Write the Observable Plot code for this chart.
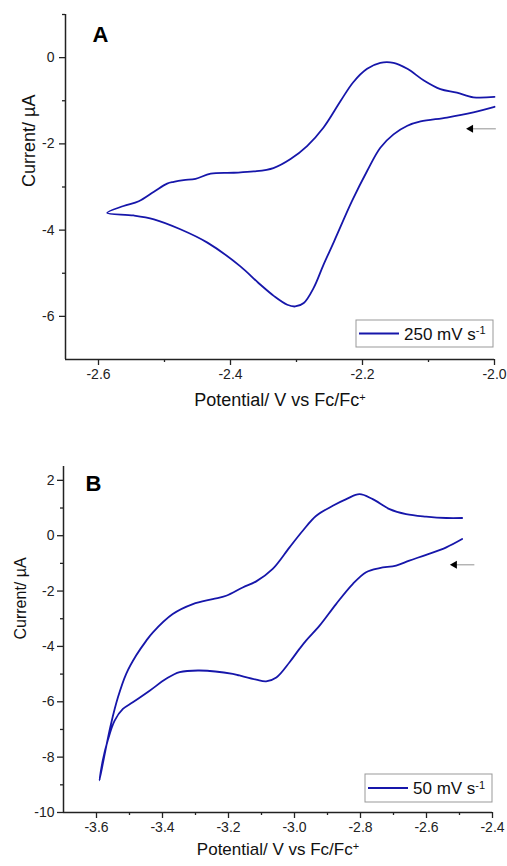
<!DOCTYPE html>
<html><head><meta charset="utf-8">
<script src="https://cdn.jsdelivr.net/npm/d3@7"></script>
<script src="https://cdn.jsdelivr.net/npm/@observablehq/plot@0.6"></script>
<style>
body{margin:0;background:#fff;}
#wrap{position:relative;width:507px;height:866px;font-family:"Liberation Sans",Arial,sans-serif;}
#wrap svg{position:absolute;left:0;overflow:visible;}
</style></head><body><div id="wrap"></div>
<script>
// ---- Panel A (250 mV s-1) ----
const aPotential = [-2.000,-2.032,-2.072,-2.112,-2.132,-2.153,-2.173,-2.193,-2.216,-2.243,-2.259,-2.274,-2.289,-2.302,-2.314,-2.334,-2.358,-2.385,-2.435,-2.476,-2.516,-2.547,-2.587,
  -2.562,-2.539,-2.516,-2.496,-2.486,-2.471,-2.453,-2.430,-2.395,-2.365,-2.335,-2.309,-2.284,-2.259,-2.233,-2.214,-2.193,-2.173,-2.153,-2.132,-2.107,-2.082,-2.057,-2.032,-2.000];
const aCurrent = [-1.14,-1.27,-1.39,-1.48,-1.58,-1.78,-2.09,-2.63,-3.33,-4.26,-4.80,-5.34,-5.69,-5.77,-5.73,-5.53,-5.22,-4.84,-4.29,-3.98,-3.75,-3.66,-3.60,
  -3.44,-3.33,-3.11,-2.92,-2.88,-2.84,-2.81,-2.69,-2.67,-2.64,-2.56,-2.35,-2.05,-1.62,-1.00,-0.57,-0.26,-0.12,-0.12,-0.26,-0.53,-0.73,-0.81,-0.92,-0.91];
const aXMajor = [-2.6,-2.4,-2.2,-2.0];
const aXMinor = [-2.5,-2.3,-2.1];
const aYMajor = [0,-2,-4,-6];
const aYMinor = [1,-1,-3,-5];
const aLegend = "250 mV s";
const aArrow = {x1:-1.998, x2:-2.039, y:-1.65};

// ---- Panel B (50 mV s-1) ----
const bPotential = [-2.492,-2.540,-2.601,-2.652,-2.692,-2.742,-2.783,-2.823,-2.874,-2.924,-2.965,-2.985,-3.015,-3.055,-3.086,-3.116,-3.167,-3.187,-3.288,-3.348,-3.389,-3.439,-3.490,-3.520,-3.545,-3.566,-3.581,-3.591,
  -3.573,-3.556,-3.535,-3.510,-3.480,-3.449,-3.429,-3.369,-3.308,-3.248,-3.207,-3.157,-3.116,-3.066,-3.015,-2.975,-2.934,-2.884,-2.843,-2.803,-2.763,-2.712,-2.662,-2.601,-2.540,-2.492];
const bCurrent = [-0.12,-0.42,-0.69,-0.90,-1.08,-1.17,-1.32,-1.74,-2.47,-3.25,-3.79,-4.09,-4.57,-5.12,-5.26,-5.20,-5.05,-4.99,-4.87,-4.93,-5.17,-5.60,-6.02,-6.26,-6.68,-7.40,-8.12,-8.84,
  -7.76,-6.80,-5.84,-4.99,-4.33,-3.79,-3.49,-2.83,-2.47,-2.29,-2.17,-1.87,-1.65,-1.20,-0.42,0.18,0.72,1.08,1.32,1.50,1.32,0.96,0.78,0.69,0.64,0.64];
const bXMajor = [-3.6,-3.4,-3.2,-3.0,-2.8,-2.6,-2.4];
const bXMinor = [-3.5,-3.3,-3.1,-2.9,-2.7,-2.5];
const bYMajor = [2,0,-2,-4,-6,-8,-10];
const bYMinor = [1,-1,-3,-5,-7,-9];
const bLegend = "50 mV s";
const bArrow = {x1:-2.455, x2:-2.521, y:-1.05};

const xTitle = "Potential/ V vs Fc/Fc";
const yTitle = "Current/ \u00b5A";

const LINE = "#1616aa";
const AXIS = "#222";
const FONT = "'Liberation Sans', Arial, sans-serif";

function panel(cfg) {
  const data = cfg.v.map((v, k) => ({v, i: cfg.c[k]}));
  const [x0] = cfg.xDomain, [y0] = cfg.yDomain;
  const svg = Plot.plot({
    width: 507, height: cfg.height,
    marginLeft: cfg.ml, marginRight: cfg.mr, marginTop: cfg.mt, marginBottom: cfg.mb,
    style: {fontFamily: FONT, fontSize: "14px", color: AXIS, background: "transparent", overflow: "visible"},
    x: {domain: cfg.xDomain},
    y: {domain: cfg.yDomain},
    marks: [
      Plot.line(data, {x: "v", y: "i", stroke: LINE, strokeWidth: 1.8, curve: "catmull-rom"}),
      Plot.ruleX([x0], {stroke: AXIS, strokeWidth: 1.5}),
      Plot.ruleY([y0], {stroke: AXIS, strokeWidth: 1.5}),
      Plot.axisX(cfg.xMajor, {tickSize: 6, tickPadding: 4, strokeWidth: 1.3, tickFormat: d => d.toFixed(1), label: null, fontSize: 14}),
      Plot.axisX(cfg.xMinor, {tickSize: 3, strokeWidth: 1.3, tickFormat: () => "", label: null}),
      Plot.axisY(cfg.yMajor, {tickSize: 6, tickPadding: cfg.ypad, strokeWidth: 1.3, tickFormat: d => String(d), label: null, fontSize: 14}),
      Plot.axisY(cfg.yMinor, {tickSize: 3, strokeWidth: 1.3, tickFormat: () => "", label: null}),
      Plot.text([xTitle], {text: d => d, frameAnchor: "bottom", dy: cfg.xtDy, fontSize: cfg.xtSize, fill: "#111", className: "xtitle"}),
      Plot.text([yTitle], {text: d => d, frameAnchor: "left", rotate: -90, dx: cfg.ytDx, fontSize: cfg.ytSize, fill: "#111"}),
      Plot.text([cfg.tag], {text: d => d, frameAnchor: "top-left", textAnchor: "start", lineAnchor: "top", dx: cfg.tagDx, dy: cfg.tagDy, fontSize: 22, fontWeight: "bold", fill: "#000"}),
      Plot.link([cfg.arrow], {x1: "x1", x2: "x2", y1: "y", y2: "y", stroke: "#aaa", strokeWidth: 1.3}),
      Plot.dot([cfg.arrow], {x: "x2", y: "y", symbol: "triangle", rotate: -90, r: 3, fill: "#000", stroke: null, dx: 2})
    ]
  });
  svg.style.top = cfg.top + "px";
  d3.select(svg).selectAll('g[aria-label$="tick label"]').attr("font-size", 14);
  // superscript on x title
  const xt = svg.querySelector(".xtitle text");
  if (xt) {
    const s = document.createElementNS("http://www.w3.org/2000/svg", "tspan");
    s.setAttribute("dy", "-0.45em"); s.setAttribute("font-size", "11");
    s.textContent = "+"; xt.appendChild(s);
  }
  // legend (box given in page pixels)
  const [lx, ly0, lw, lh] = cfg.legendBox;
  const ly = ly0 - cfg.top;
  const g = d3.select(svg).append("g").attr("font-family", FONT).attr("text-anchor", "start");
  g.append("rect").attr("x", lx).attr("y", ly).attr("width", lw).attr("height", lh)
    .attr("fill", "#fff").attr("stroke", "#999").attr("stroke-width", 1);
  g.append("line").attr("x1", lx + 3).attr("x2", lx + 43).attr("y1", ly + lh / 2).attr("y2", ly + lh / 2)
    .attr("stroke", LINE).attr("stroke-width", 1.8);
  const t = g.append("text").attr("x", lx + 48).attr("y", ly + lh / 2).attr("dy", "0.36em")
    .attr("font-size", 17).attr("fill", "#111");
  t.append("tspan").text(cfg.legend);
  t.append("tspan").attr("dy", "-0.5em").attr("font-size", 11).text("-1");
  return svg;
}

const wrap = document.getElementById("wrap");
wrap.appendChild(panel({
  v: aPotential, c: aCurrent, xDomain: [-2.65, -2.0], yDomain: [-7, 1],
  xMajor: aXMajor, xMinor: aXMinor, yMajor: aYMajor, yMinor: aYMinor,
  height: 420, top: 0, ml: 65, mr: 13, mt: 14, mb: 61, ypad: 5,
  xtDy: 46, xtSize: 18, ytDx: -36, ytSize: 18, tag: "A", tagDx: 27, tagDy: 12,
  arrow: aArrow, legend: aLegend, legendBox: [356, 320, 137, 27]
}));
wrap.appendChild(panel({
  v: bPotential, c: bCurrent, xDomain: [-3.7, -2.4], yDomain: [-10, 2.5],
  xMajor: bXMajor, xMinor: bXMinor, yMajor: bYMajor, yMinor: bYMinor,
  height: 426, top: 440, ml: 63, mr: 15, mt: 26, mb: 54, ypad: 3,
  xtDy: 42, xtSize: 17, ytDx: -43, ytSize: 16, tag: "B", tagDx: 22, tagDy: 9,
  arrow: bArrow, legend: bLegend, legendBox: [365, 774, 127, 28]
}));
</script></body></html>
